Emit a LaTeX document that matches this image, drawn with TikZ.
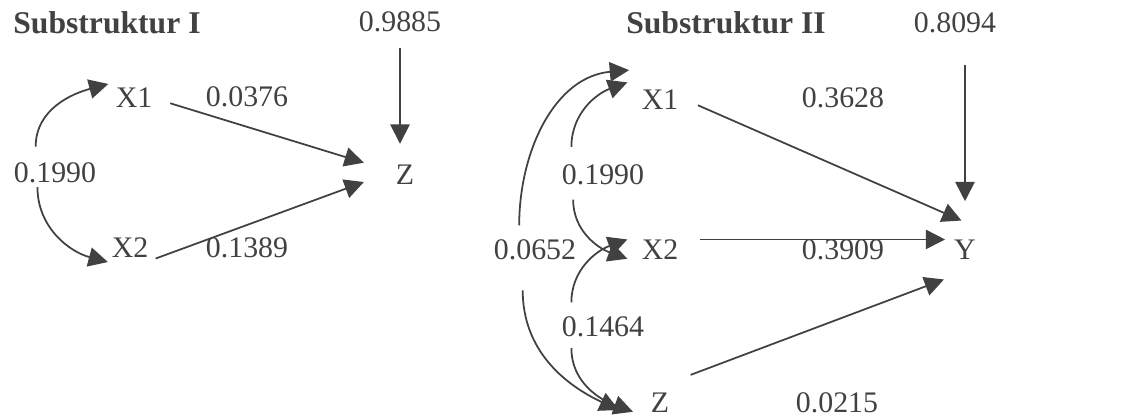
\documentclass[tikz,border=0pt]{standalone}
\usepackage{fontspec}
\setmainfont{Liberation Serif}
\usetikzlibrary{arrows.meta,positioning}
\definecolor{ink}{RGB}{65,65,65}

\begin{document}
\begin{tikzpicture}[x=0.02cm,y=0.02cm,
  every node/.style={inner sep=2pt,text=ink,font=\fontsize{17}{20}\selectfont},
  title/.style={font=\fontsize{18}{20}\selectfont\bfseries},
  arr/.style={draw=ink,line width=1pt,-{Triangle[length=11pt,width=11pt]}}]
\useasboundingbox (0,0) rectangle (1125,419);
% Substruktur I
\node[title] (tI) at (107,396) {Substruktur I};
\node (eZ) at (400,397) {0.9885};
\node (Za) at (405,244) {Z};
\node (X1a) at (134,321) {X1};
\node (X2a) at (130,171) {X2};
\node (pa1) at (247,322) {0.0376};
\node (pa2) at (247,171) {0.1389};
\node (ra) at (55,246) {0.1990};
\draw[arr,shorten <=7pt,shorten >=10pt] (eZ.south) -- (eZ.south |- Za.north);
\draw[arr] ([xshift=8pt,yshift=-3pt]X1a.east) -- ([shift={(-16pt,7pt)}]Za.west);
\draw[arr] ([shift={(2pt,-6pt)}]X2a.east) -- ([shift={(-16pt,-4pt)}]Za.west);
\draw[arr] ([shift={(-11pt,7pt)}]ra.north) to[out=90,in=195] ([shift={(-2pt,8pt)}]X1a.west);
\draw[arr] ([shift={(-10pt,0pt)}]ra.south) to[out=-90,in=165] ([shift={(0pt,-8pt)}]X2a.west);
% Substruktur II
\node[title] (tII) at (726,396) {Substruktur II};
\node (eY) at (955,396) {0.8094};
\node (Yb) at (965,169) {Y};
\node (X1b) at (660,319) {X1};
\node (X2b) at (660,169) {X2};
\node (Zb) at (660,16) {Z};
\node (pb1) at (843,321) {0.3628};
\node (pb3) at (837,16) {0.0215};
\node (rb1) at (603,244) {0.1990};
\node (rb2) at (535,169) {0.0652};
\node (rb3) at (603,92) {0.1464};
\draw[arr] ([shift={(10pt,6pt)}]X2b.east) -- ([shift={(-3pt,6pt)}]Yb.west);
\node (pb2) at (843,169) {0.3909};
\draw[arr,shorten <=16pt,shorten >=20pt] (Yb.north |- eY.south) -- (Yb.north);
\draw[arr] ([shift={(9pt,-3pt)}]X1b.east) -- ([shift={(-2pt,9pt)}]Yb.north);
\draw[arr] ([shift={(10pt,16pt)}]Zb.east) -- ([shift={(-12pt,-9pt)}]Yb.south);
\draw[arr] ([shift={(-18pt,8pt)}]rb1.north) to[out=90,in=200] ([shift={(-6pt,10pt)}]X1b.west);
\draw[arr] ([shift={(-17pt,-6pt)}]rb1.south) to[out=-90,in=160] ([shift={(-6pt,-5pt)}]X2b.west);
\draw[arr] ([shift={(-18pt,6pt)}]rb3.north) to[out=90,in=200] ([shift={(-6pt,6pt)}]X2b.west);
\draw[arr] ([shift={(-18pt,-4pt)}]rb3.south) to[out=-90,in=160] ([shift={(-8pt,-5pt)}]Zb.west);
\draw[arr] ([shift={(-9pt,6pt)}]rb2.north) to[out=90,in=185] ([shift={(-5pt,17pt)}]X1b.west);
\draw[arr] ([shift={(-7pt,-15pt)}]rb2.south) to[out=-90,in=155] ([shift={(-16pt,-4pt)}]Zb.west);
\end{tikzpicture}
\end{document}
